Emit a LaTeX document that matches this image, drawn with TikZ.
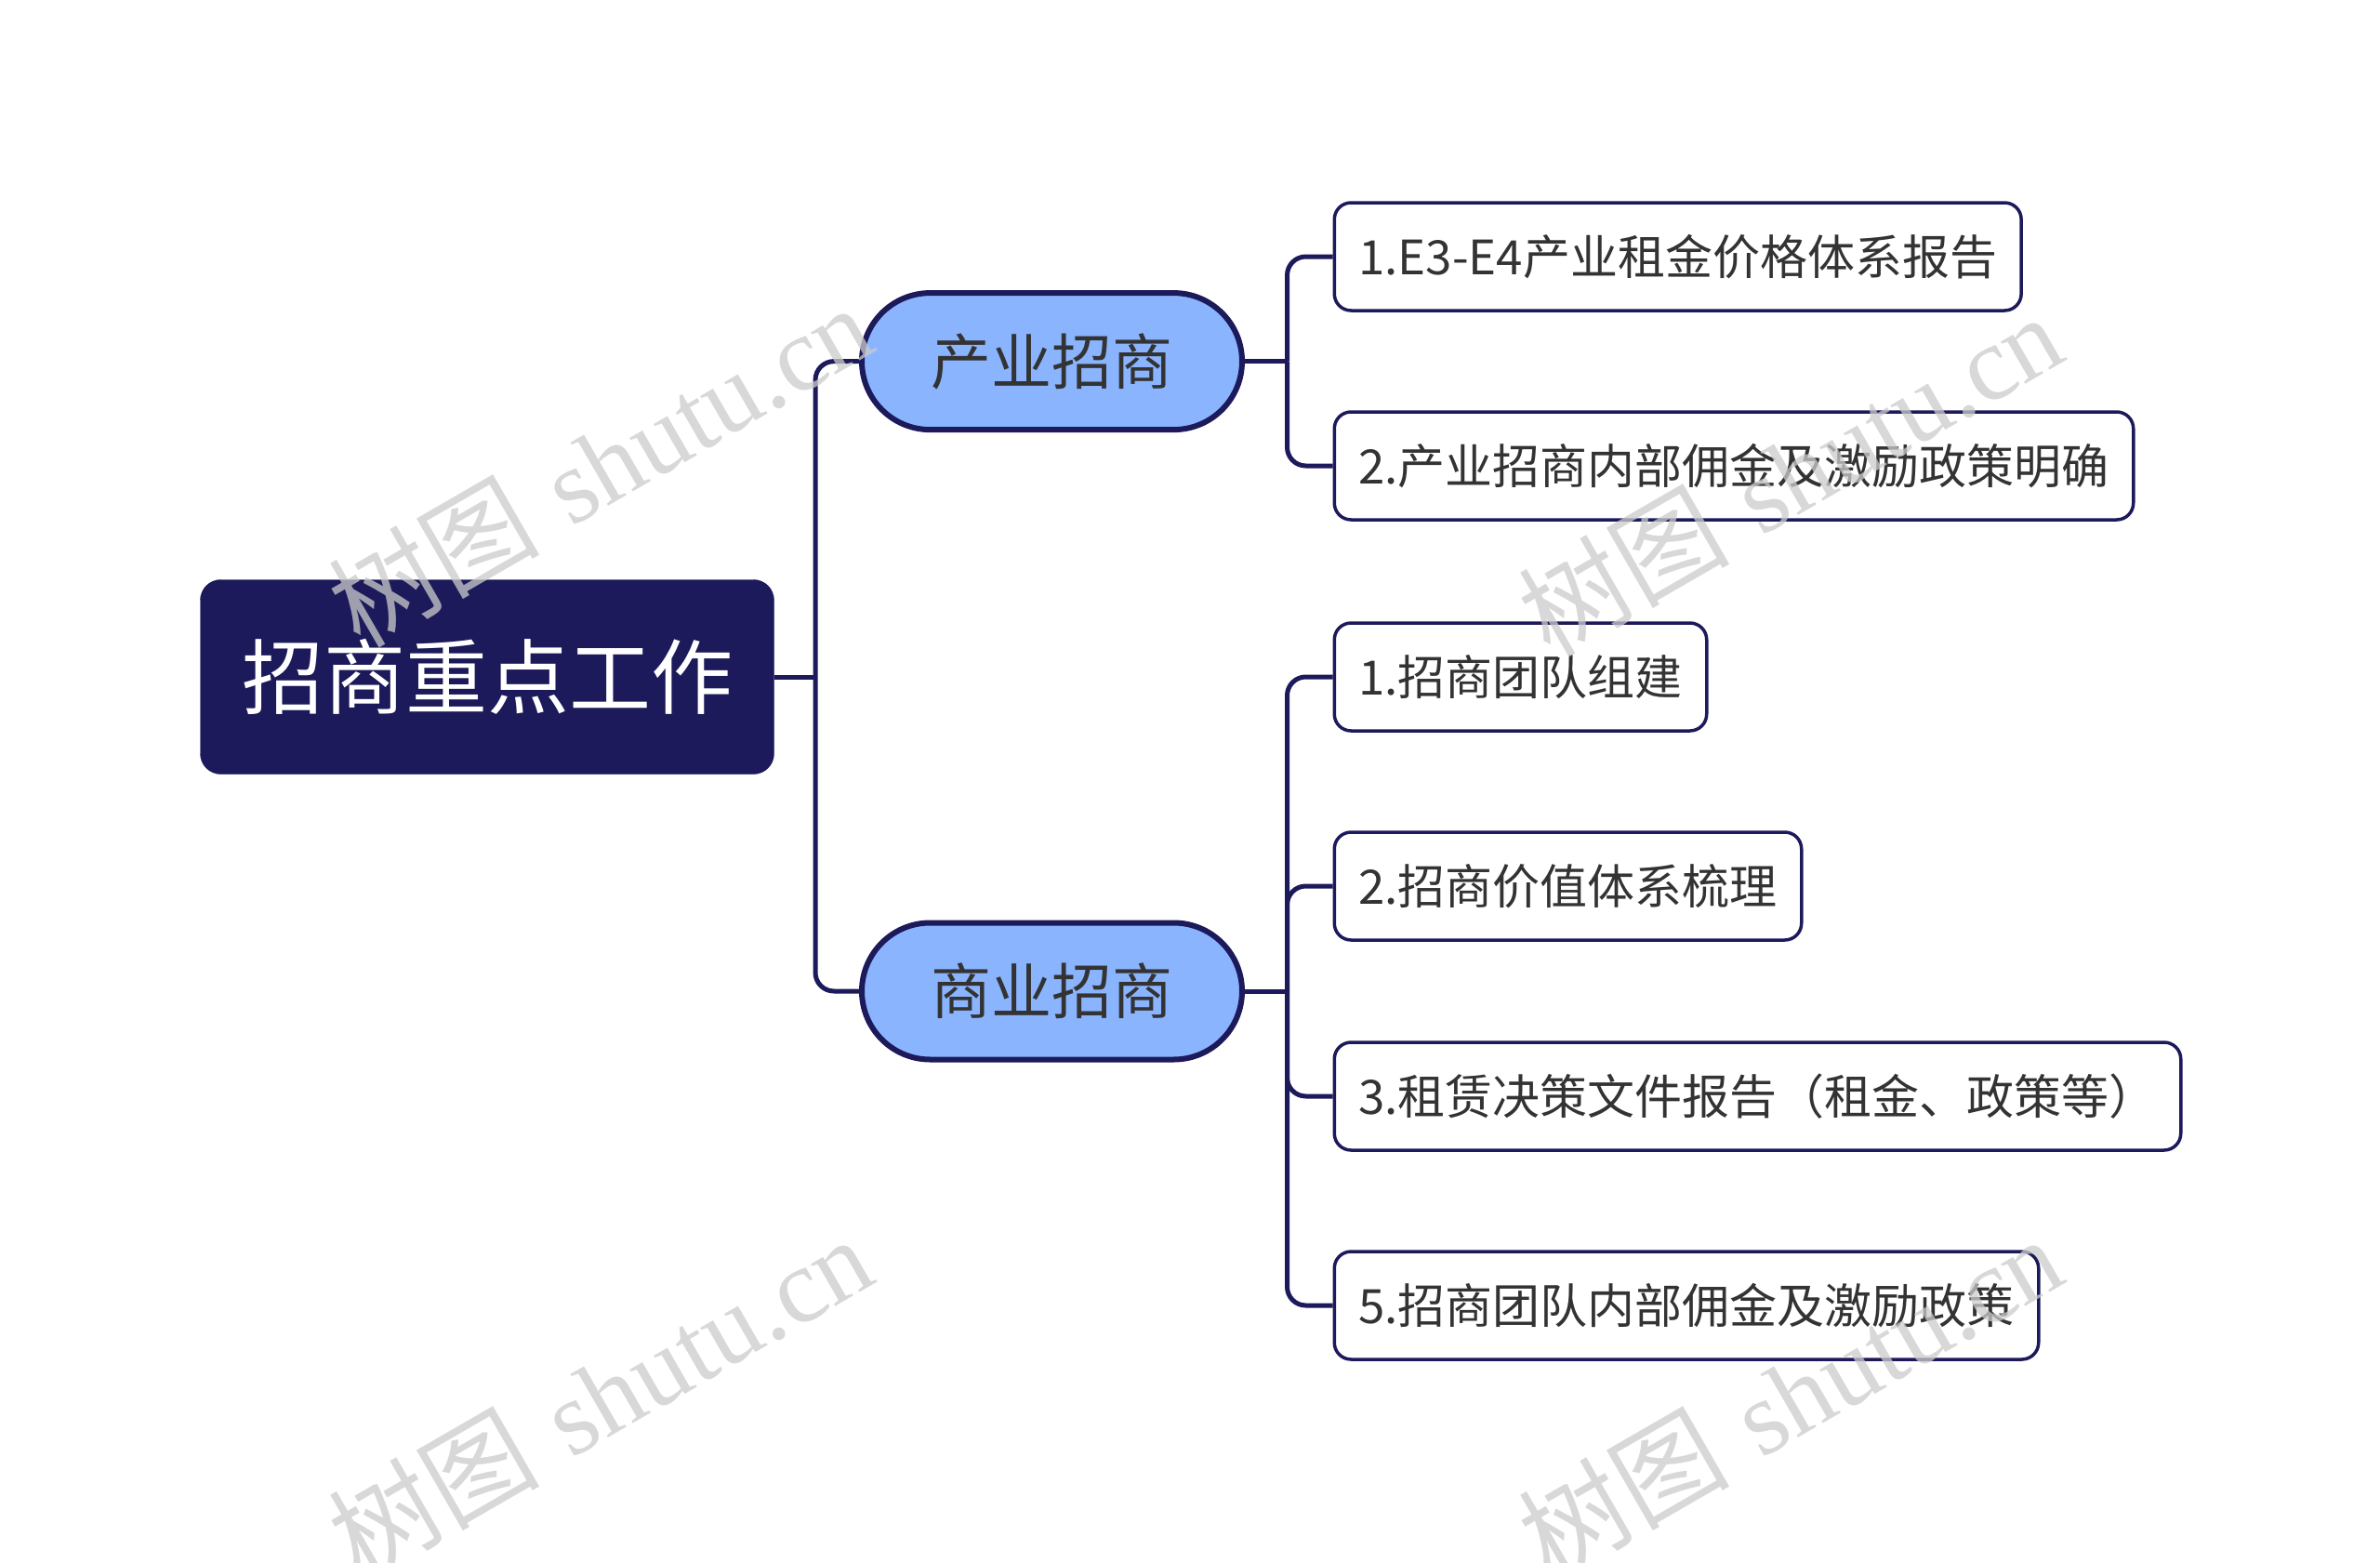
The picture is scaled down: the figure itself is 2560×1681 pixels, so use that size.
\documentclass[tikz,border=0pt]{standalone}
\usepackage{fontspec}
\newfontfamily\cjk{Noto Sans CJK SC}
\newfontfamily\wmserif{Liberation Serif}
\usetikzlibrary{shapes.misc}
\definecolor{navy}{RGB}{28,26,90}
\definecolor{bluefill}{RGB}{138,180,254}
\definecolor{txt}{RGB}{51,51,51}
\tikzset{
  rootbox/.style={draw=navy, fill=navy, rounded corners=22pt, minimum width=617pt, minimum height=209pt, text=white, font=\cjk\fontsize{88}{100}\selectfont, inner sep=0pt},
  branchbox/.style={rounded rectangle, draw=navy, line width=6pt, fill=bluefill, minimum width=409pt, minimum height=147pt, text=txt, font=\cjk\fontsize{65}{78}\selectfont, inner sep=0pt},
  leafbox/.style={draw=navy, line width=3.5pt, fill=white, rounded corners=18pt, minimum height=116pt, inner xsep=26pt, text=txt, font=\cjk\fontsize{51}{61}\selectfont, anchor=west},
  conn/.style={draw=navy, line width=5pt, rounded corners=20pt},
  wm/.style={text=black!20, opacity=0.75, rotate=30, font=\fontsize{114}{130}\selectfont}
}
\begin{document}
\begin{tikzpicture}[x=1pt,y=1pt]
\useasboundingbox[fill=white] (0,0) rectangle (2560,-1681);
% junctions
\coordinate (j0) at (877,-728);
\coordinate (j1) at (1384.5,-388.6);
\coordinate (j2) at (1384.5,-1066);
% nodes
\node[rootbox] (root) at (524,-728) {招商重点工作};
\node[branchbox] (b1) at (1131.5,-388.6) {产业招商};
\node[branchbox] (b2) at (1131.5,-1066) {商业招商};
\node[leafbox] (l1) at (1433.5,-276) {1.E3-E4产业租金价格体系报告};
\node[leafbox] (l2) at (1433.5,-501) {2.产业招商内部佣金及激励政策明确};
\node[leafbox] (l3) at (1433.5,-728) {1.招商团队组建};
\node[leafbox] (l4) at (1433.5,-953) {2.招商价值体系梳理};
\node[leafbox] (l5) at (1433.5,-1179) {3.租赁决策文件报告（租金、政策等）};
\node[leafbox] (l6) at (1433.5,-1404) {5.招商团队内部佣金及激励政策};
% connectors
\draw[conn] (root.east) -- (j0);
\draw[conn] (j0) |- (b1.west);
\draw[conn] (j0) |- (b2.west);
\draw[conn] (b1.east) -- (j1);
\draw[conn] (j1) |- (l1.west);
\draw[conn] (j1) |- (l2.west);
\draw[conn] (b2.east) -- (j2);
\draw[conn] (j2) |- (l3.west);
\draw[conn] (j2) |- (l4.west);
\draw[conn] (j2) |- (l5.west);
\draw[conn] (j2) |- (l6.west);
% watermarks
\node[wm] (wm1) at (645,-500) {{\cjk 树图} {\wmserif shutu.cn}};
\node[wm] (wm2) at (1925,-510) {{\cjk 树图} {\wmserif shutu.cn}};
\node[wm] (wm3) at (645,-1502) {{\cjk 树图} {\wmserif shutu.cn}};
\node[wm] (wm4) at (1925,-1502) {{\cjk 树图} {\wmserif shutu.cn}};
\end{tikzpicture}
\end{document}
